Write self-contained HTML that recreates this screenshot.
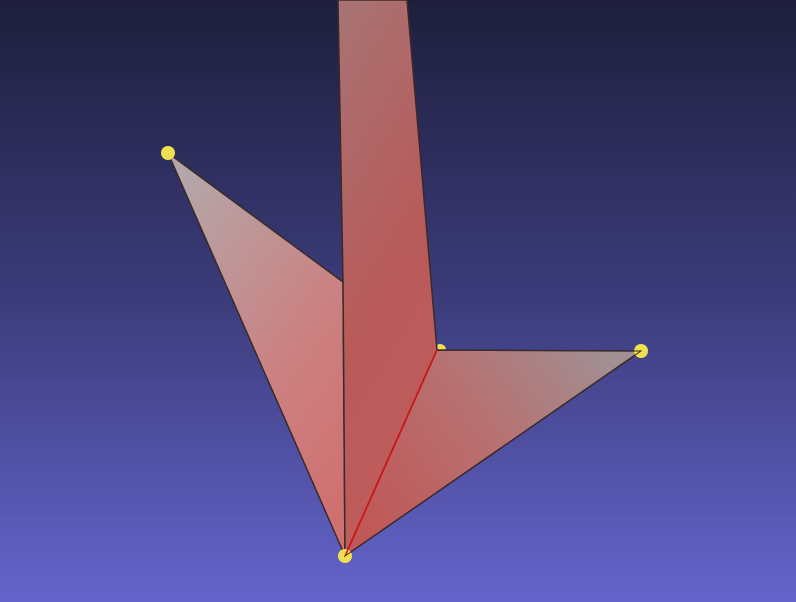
<!DOCTYPE html>
<html><head><meta charset="utf-8"><style>
html,body{margin:0;padding:0;width:796px;height:602px;overflow:hidden}
svg{display:block}
</style></head><body>
<svg width="796" height="602" viewBox="0 0 796 602">
<defs>
<linearGradient id="bg" x1="0" y1="0" x2="0" y2="1">
<stop offset="0" stop-color="#1e1e3c"/><stop offset="0.5" stop-color="#3c3c7c"/><stop offset="1" stop-color="#6464cc"/></linearGradient>
<linearGradient id="lt" x1="0.2" y1="0" x2="0.8" y2="1">
<stop offset="0" stop-color="#b4a6a8"/><stop offset="0.6" stop-color="#cc8080"/><stop offset="1" stop-color="#d07070"/></linearGradient>
<linearGradient id="st" x1="0" y1="0" x2="0.3" y2="1">
<stop offset="0" stop-color="#a87474"/><stop offset="0.6" stop-color="#b85a5a"/><stop offset="1" stop-color="#c05c5c"/></linearGradient>
<linearGradient id="rt" x1="0" y1="0.7" x2="1" y2="0.2">
<stop offset="0" stop-color="#c05858"/><stop offset="0.5" stop-color="#b87070"/><stop offset="1" stop-color="#a09094"/></linearGradient>
</defs>
<rect width="796" height="602" fill="url(#bg)"/>
<circle cx="440" cy="350" r="6" fill="#f0e050"/>
<polygon points="168,153 343,282 345,556" fill="url(#lt)" stroke="#3a2a2a" stroke-width="1.5"/>
<polygon points="338,0 407,0 437,350 345,556 343,282" fill="url(#st)" stroke="#3a2a2a" stroke-width="1.5"/>
<polygon points="437,350 641,351 345,556" fill="url(#rt)" stroke="#3a2a2a" stroke-width="1.5"/>
<circle cx="168" cy="153" r="7" fill="#f0e050"/>
<circle cx="641" cy="351" r="7" fill="#f0e050"/>
<circle cx="345" cy="556" r="7" fill="#f0e050"/>
<polygon points="437,350 641,351 345,556" fill="none" stroke="#3a2a2a" stroke-width="1"/>
<line x1="345" y1="556" x2="437" y2="350" stroke="#dd1010" stroke-width="1.5"/>
</svg>
</body></html>
